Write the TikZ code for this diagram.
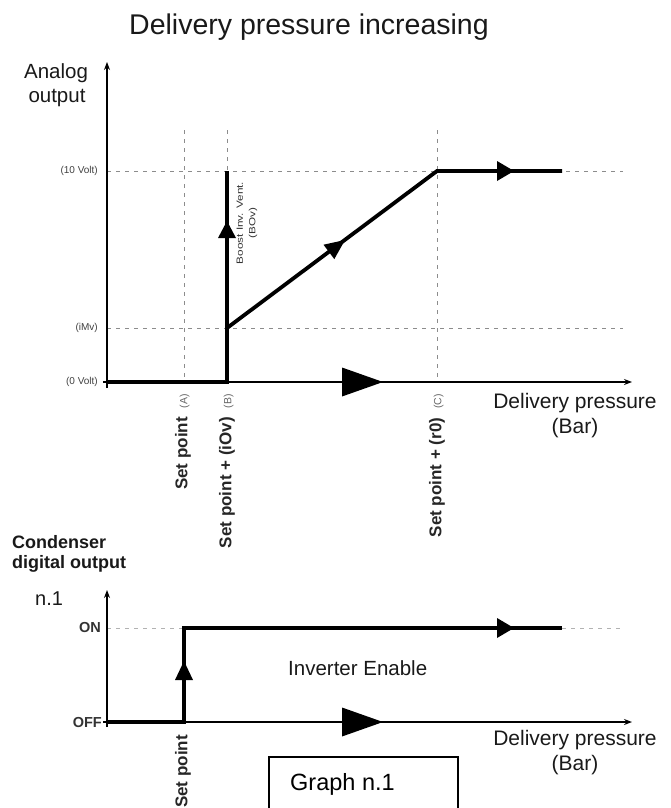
\documentclass[tikz,border=0pt]{standalone}
\usepackage{fontspec}
\setmainfont{Liberation Sans}
\usetikzlibrary{arrows.meta}
\begin{document}
\begin{tikzpicture}[x=1pt,y=-1pt,
  axisline/.style={line width=1.3pt, draw=black, -{Stealth[length=8pt,width=6pt]}},
  dashline/.style={draw=black!45, line width=1pt, dash pattern=on 4pt off 5pt},
  boldline/.style={line width=3.8pt, draw=black, line cap=butt, line join=miter},
  tri/.style={fill=black},
  lbl/.style={inner sep=0pt, text=black!90},
  smalllbl/.style={inner sep=0pt, text=black!75, font=\fontsize{10}{10}\selectfont},
  onoff/.style={inner sep=0pt, text=black!80, font=\fontsize{14.5}{14.5}\selectfont\bfseries},
  rotlbl/.style={inner sep=0pt, rotate=90, anchor=east, text=black!85},
  box/.style={draw=black, line width=1.4pt},
]
\useasboundingbox (0,0) rectangle (671,808);

% ---------- title ----------
\node[lbl, anchor=base, font=\fontsize{28.5}{30}\selectfont] (title) at (309,35) {Delivery pressure increasing};

% ---------- top graph ----------
\coordinate (O1) at (107,382);
\coordinate (Ytop1) at (107,62);
\coordinate (Xend1) at (632,382);
\coordinate (A) at (184,382);
\coordinate (B) at (227,382);
\coordinate (C) at (437,382);
\coordinate (B10) at (227,171);
\coordinate (BiM) at (227,328);
\coordinate (C10) at (437,171);
\coordinate (E10) at (562,171);

% dashed guides
\draw[dashline] (184,130) -- (A);
\draw[dashline] (227,130) -- (B);
\draw[dashline] (437,130) -- (C);
\draw[dashline] (107,171) -- (623,171);
\draw[dashline] (107,328) -- (623,328);

% axes
\draw[axisline] (107,388) -- (Ytop1);
\draw[axisline] (103,382) -- (Xend1);

% curve
\draw[boldline] (O1) -- (B) -- (B10);
\draw[boldline] (BiM) -- (C10) -- (E10);

% arrow heads
\fill[tri] (227,221) -- (236,238) -- (218,238) -- cycle;
\fill[tri] (345,240) -- (334.3,259.1) -- (323.5,244.7) -- cycle;
\fill[tri] (514,171) -- (497,161) -- (497,181) -- cycle;
\fill[tri] (383,382) -- (342,367.5) -- (342,396.5) -- cycle;

% y labels
\node[lbl, anchor=base, font=\fontsize{20.5}{22}\selectfont] (an1) at (56,78) {Analog};
\node[lbl, anchor=base, font=\fontsize{20.5}{22}\selectfont] (an2) at (57,102) {output};
\node[smalllbl, anchor=east] (v10) at (98,171) {(10 Volt)};
\node[smalllbl, anchor=east] (vim) at (98,328) {(iMv)};
\node[smalllbl, anchor=east] (v0) at (98,382) {(0 Volt)};

% boost label
\node[inner sep=0pt, rotate=90, text=black!80, align=center,
      font=\fontsize{9}{12.5}\selectfont] (boost) at (247,223)
  {\scalebox{1.3}[1]{Boost Inv. Vent.}\\\scalebox{1.3}[1]{(BOv)}};

% x labels
\node[lbl, anchor=base, font=\fontsize{21}{22}\selectfont] (dp1) at (575,408) {Delivery pressure};
\node[lbl, anchor=base, font=\fontsize{21}{22}\selectfont] (bar1) at (575,433) {(Bar)};

\node[rotlbl] (la) at (183,394)
  {{\fontsize{17}{17}\selectfont\bfseries Set point}\hspace{9pt}{\fontsize{10.5}{10.5}\selectfont\color{black!60}(A)}};
\node[rotlbl] (lb) at (227,394)
  {{\fontsize{17}{17}\selectfont\bfseries Set point + (iOv)}\hspace{9pt}{\fontsize{10.5}{10.5}\selectfont\color{black!60}(B)}};
\node[rotlbl] (lc) at (437,394)
  {{\fontsize{17}{17}\selectfont\bfseries Set point + (r0)}\hspace{9pt}{\fontsize{10.5}{10.5}\selectfont\color{black!60}(C)}};

% ---------- bottom graph ----------
\node[lbl, anchor=base west, font=\fontsize{18}{18}\selectfont\bfseries] (cond1) at (12,548) {Condenser};
\node[lbl, anchor=base west, font=\fontsize{18}{18}\selectfont\bfseries] (cond2) at (12,568) {digital output};
\node[lbl, anchor=base west, font=\fontsize{20}{20}\selectfont] (n1) at (35,605) {n.1};

\coordinate (O2) at (107,722);
\coordinate (Ytop2) at (107,590);
\coordinate (Xend2) at (632,722);
\coordinate (S2) at (184,722);
\coordinate (S2on) at (184,628);
\coordinate (E2on) at (562,628);

\draw[dashline, draw=black!30] (107,628) -- (S2on);
\draw[dashline, draw=black!30] (E2on) -- (623,628);

\draw[axisline] (107,727) -- (Ytop2);
\draw[axisline] (103,722) -- (Xend2);

\draw[boldline] (O2) -- (S2) -- (S2on) -- (E2on);

\fill[tri] (184,661) -- (193,680) -- (175,680) -- cycle;
\fill[tri] (514,628) -- (497,618) -- (497,638) -- cycle;
\fill[tri] (383,722) -- (342,707.5) -- (342,736.5) -- cycle;

\node[onoff, anchor=east] (on) at (101,628) {ON};
\node[onoff, anchor=east] (off) at (102,722) {OFF};

\node[lbl, anchor=base west, font=\fontsize{20.5}{22}\selectfont] (inv) at (288,675) {Inverter Enable};

\node[lbl, anchor=base, font=\fontsize{21}{22}\selectfont] (dp2) at (575,745) {Delivery pressure};
\node[lbl, anchor=base, font=\fontsize{21}{22}\selectfont] (bar2) at (575,770) {(Bar)};

\node[rotlbl] (ls) at (183,735) {\fontsize{17}{17}\selectfont\bfseries Set point};

\draw[box] (269,757) rectangle (458,812);
\node[inner sep=0pt, anchor=base west, text=black, font=\fontsize{23.5}{24}\selectfont] (graph) at (290,790) {Graph n.1};

\end{tikzpicture}
\end{document}
